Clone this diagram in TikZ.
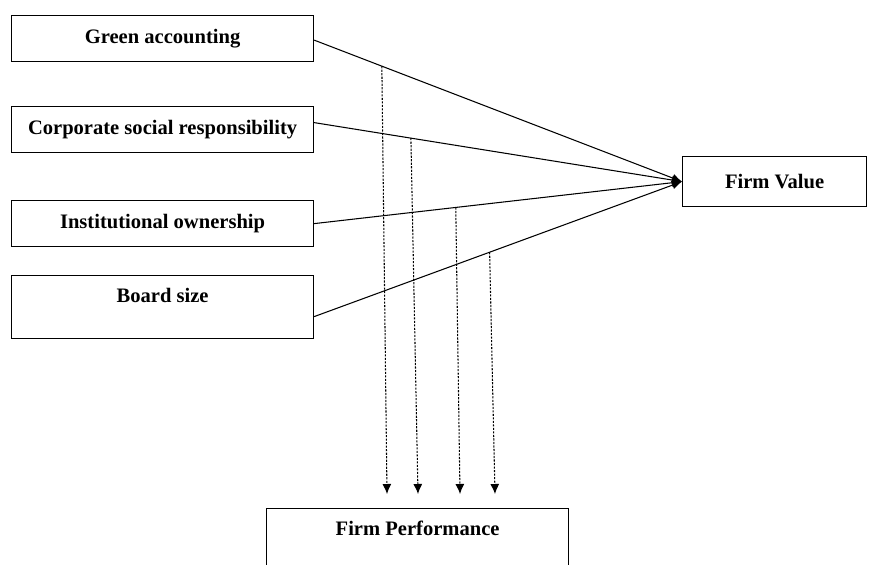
\documentclass[tikz,border=0pt]{standalone}
\usepackage{fontspec}
\setmainfont{Liberation Serif}
\usetikzlibrary{arrows.meta}
\tikzset{box/.style={draw, rectangle, line width=0.7pt, inner sep=0pt, anchor=north west,
    minimum width=6.04cm, minimum height=0.92cm, font=\fontsize{11.7}{14}\selectfont\bfseries}}

\begin{document}
\begin{tikzpicture}[x=0.02cm, y=-0.02cm,
    link/.style={line width=0.6pt, -{Latex[length=2mm,width=1.7mm]}},
    mod/.style={line width=0.6pt, dash pattern=on 1.2pt off 0.8pt, -{Latex[length=2mm,width=1.8mm]}}]
    \useasboundingbox (0,0) rectangle (870,565);
    % independent variables
    \node[box] (green) at (11,15) {Green accounting};
    \node[box] (csr) at (11,106) {Corporate social responsibility};
    \node[box] (inst) at (11,200) {Institutional ownership};
    \node[box, text height=0.54cm, text depth=0.72cm] (board) at (11,275) {Board size};
    % dependent and moderating
    \node[box, minimum width=3.68cm, minimum height=1cm] (fv) at (682,156) {Firm Value};
    \node[box, text height=0.54cm, text depth=1.06cm] (fp) at (266,508) {Firm Performance};
    % direct effects
    \draw[link] ([yshift=-0.3mm]green.east) -- (fv.west) coordinate[pos=0.184] (g1);
    \draw[link] ([yshift=1.4mm]csr.east) -- (fv.west) coordinate[pos=0.263] (c1);
    \draw[link] (inst.east) -- (fv.west) coordinate[pos=0.385] (i1);
    \draw[link] ([yshift=-1.9mm]board.east) -- (fv.west) coordinate[pos=0.477] (b1);
    % moderation
    \coordinate (g2) at (387,494);
    \coordinate (c2) at (418,494);
    \coordinate (i2) at (460,494);
    \coordinate (b2) at (495,494);
    \draw[mod] (g1) -- (g2);
    \draw[mod] (c1) -- (c2);
    \draw[mod] (i1) -- (i2);
    \draw[mod] (b1) -- (b2);
\end{tikzpicture}
\end{document}
